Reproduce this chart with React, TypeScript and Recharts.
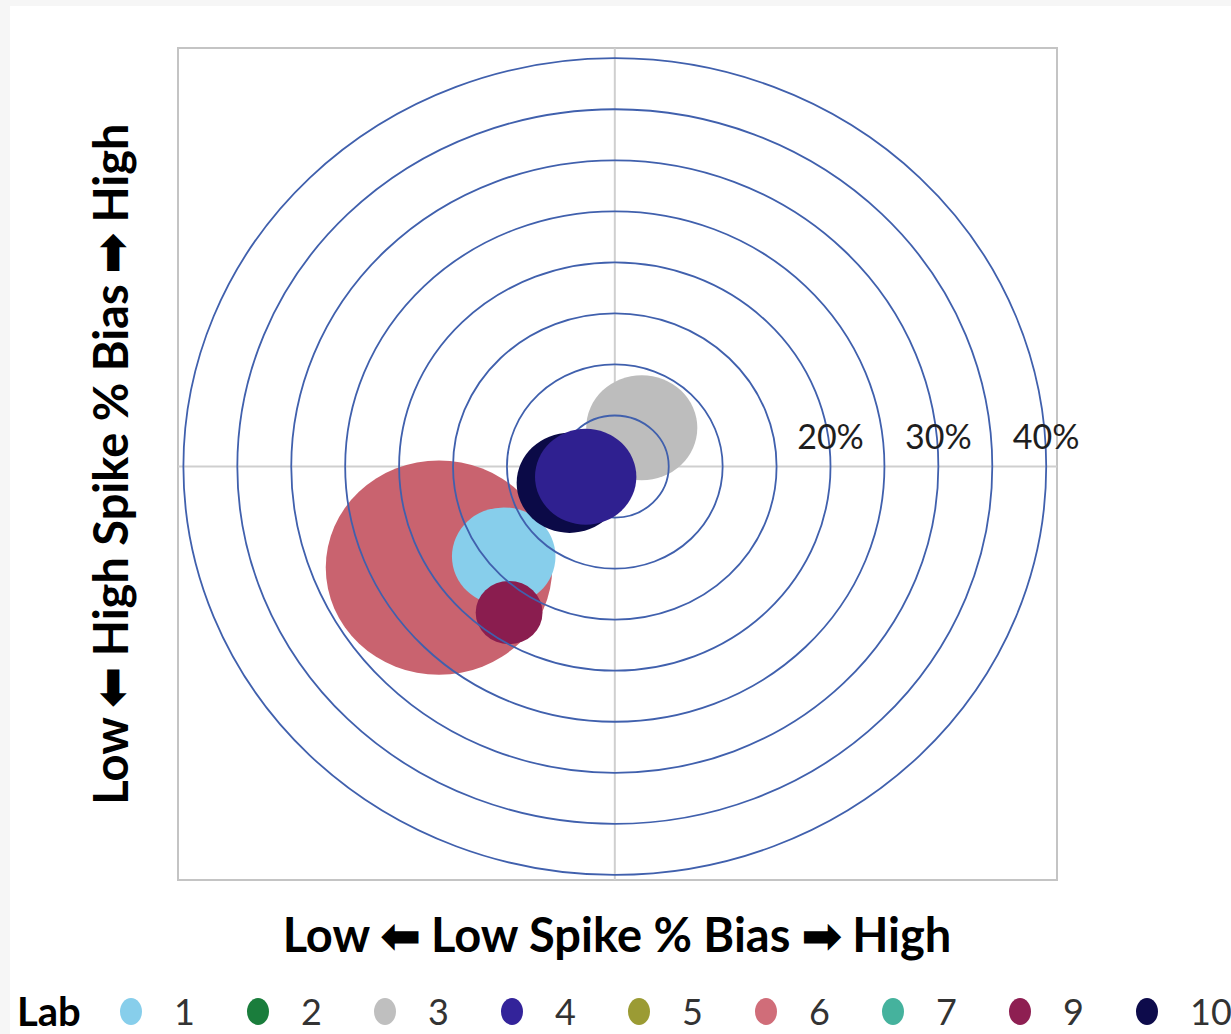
import React from "react";
import { ScatterChart, Scatter, XAxis, YAxis, ReferenceLine, ReferenceArea, LabelList } from "recharts";

const labs = ["1", "2", "3", "4", "5", "6", "7", "9", "10"];
const labColors = ["#87ceeb", "#1a7d3c", "#bfbfbf", "#33239a", "#9b9b34", "#d06d79", "#45b29d", "#8e1f52", "#0d0b4b"];
// bubble centre and radius in % units; null = lab has no bubble on the chart
const labX = [-10.3, null, 2.5, -2.7, null, -16.3, null, -9.8, -4.2];
const labY = [-8.8, null, 3.8, -1.0, null, -9.9, null, -14.3, -1.6];
const labRadius = [4.8, null, 5.15, 4.7, null, 10.5, null, 3.1, 4.9];
const belowRings = ["6", "3", "1", "9"];
const aboveRings = ["10", "4"];

const ringRadii = [5, 10, 15, 20, 25, 30, 35, 40];
const ringLabels = [20, 30, 40];
const AXIS_MIN = -40.5;
const AXIS_MAX = 41;

const W = 1231;
const H = 1034;
const M = { top: 48, right: 174, bottom: 154, left: 178 };
const PX_X = (W - M.left - M.right) / (AXIS_MAX - AXIS_MIN);
const PX_Y = (H - M.top - M.bottom) / (AXIS_MAX - AXIS_MIN);

const bubbleColors: Record<string, string> = {
  "6": "#c9636f",
  "3": "#bdbdbd",
  "10": "#0b0a47",
  "4": "#2f2090",
  "1": "#87ceeb",
  "9": "#8a1d4f",
};

const ringData = ringRadii.map((r) => ({ x: 0, y: 0, r }));
const ringLabelData = ringLabels.map((v) => ({ x: v, y: 0, label: `${v}%` }));

function bubbleData(lab: string) {
  const i = labs.indexOf(lab);
  if (labX[i] == null) return [];
  return [{ x: labX[i], y: labY[i], r: labRadius[i], color: bubbleColors[lab] ?? labColors[i] }];
}

const BubbleShape = (props: any) => {
  const { cx, cy, payload } = props;
  return <ellipse cx={cx} cy={cy} rx={payload.r * PX_X} ry={payload.r * PX_Y} fill={payload.color} />;
};

const RingShape = (props: any) => {
  const { cx, cy, payload } = props;
  return (
    <ellipse cx={cx} cy={cy} rx={payload.r * PX_X} ry={payload.r * PX_Y} fill="none" stroke="#4060ad" strokeWidth={1.8} />
  );
};

const NoShape = () => <g />;

const titleFont = "Lato, 'Open Sans', sans-serif";

const titleStyle: React.CSSProperties = {
  position: "absolute",
  textAlign: "center",
  fontWeight: 700,
  fontSize: 47,
  lineHeight: "56px",
  color: "#000",
  whiteSpace: "nowrap",
};

export default function App() {
  return (
    <div style={{ position: "relative", width: W, height: H, background: "#f6f6f6", fontFamily: titleFont, overflow: "hidden" }}>
      <style>{"body{margin:0}"}</style>
      <div style={{ position: "absolute", left: 10, top: 6, right: 0, bottom: 0, background: "#fff" }} />
      <div style={{ position: "absolute", left: 0, top: 0 }}>
        <ScatterChart width={W} height={H} margin={M}>
          <XAxis type="number" dataKey="x" domain={[AXIS_MIN, AXIS_MAX]} allowDataOverflow hide />
          <YAxis type="number" dataKey="y" domain={[AXIS_MIN, AXIS_MAX]} allowDataOverflow hide />
          <ReferenceArea x1={AXIS_MIN} x2={AXIS_MAX} y1={AXIS_MIN} y2={AXIS_MAX} fill="none" stroke="#c4c4c4" strokeWidth={2} />
          {belowRings.map((lab) => (
            <Scatter key={lab} name={lab} data={bubbleData(lab)} shape={BubbleShape} isAnimationActive={false} />
          ))}
          <ReferenceLine x={0} stroke="#cfcfcf" strokeWidth={2} />
          <ReferenceLine y={0} stroke="#cfcfcf" strokeWidth={2} />
          <Scatter name="rings" data={ringData} shape={RingShape} isAnimationActive={false} />
          {aboveRings.map((lab) => (
            <Scatter key={lab} name={lab} data={bubbleData(lab)} shape={BubbleShape} isAnimationActive={false} />
          ))}
          <Scatter name="ring labels" data={ringLabelData} shape={NoShape} isAnimationActive={false}>
            <LabelList dataKey="label" position="top" offset={13} fontSize={34} fill="#1e1e1e" fontFamily={titleFont} />
          </Scatter>
        </ScatterChart>
      </div>

      <div style={{ ...titleStyle, left: 0, top: 906, width: 1234 }}>Low ⬅ Low Spike % Bias ➡ High</div>
      <div
        style={{
          ...titleStyle,
          left: 110 - 400,
          top: 464 - 28,
          width: 800,
          transform: "rotate(-90deg)",
          transformOrigin: "50% 50%",
        }}
      >
        Low ⬅ High Spike % Bias ➡ High
      </div>

      <div style={{ position: "absolute", left: 17, top: 990, height: 42, display: "flex", alignItems: "center" }}>
        <span style={{ fontWeight: 700, fontSize: 40, lineHeight: "42px", width: 101 }}>Lab</span>
        {labs.map((lab, i) => (
          <div key={lab} style={{ display: "flex", alignItems: "center", width: 127 }}>
            <span
              style={{ display: "inline-block", width: 22, height: 27, borderRadius: "50%", background: labColors[i], marginLeft: 2 }}
            />
            <span style={{ fontSize: 36, lineHeight: "42px", color: "#333", marginLeft: 32 }}>{lab}</span>
          </div>
        ))}
      </div>
    </div>
  );
}
